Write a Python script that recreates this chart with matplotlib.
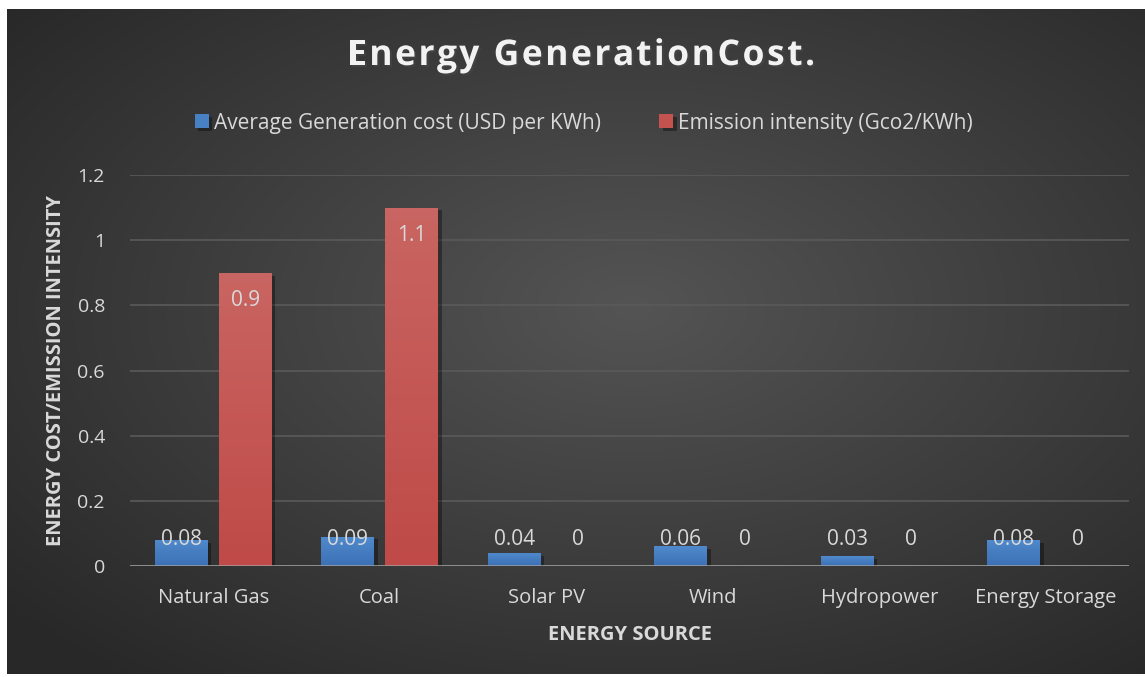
import numpy as np
import matplotlib.pyplot as plt
import matplotlib.patheffects as pe
from matplotlib.colors import LinearSegmentedColormap

# ----------------------------
# Data
# ----------------------------
categories = ["Natural Gas", "Coal", "Solar PV", "Wind", "Hydropower", "Energy Storage"]
avg_cost = [0.08, 0.09, 0.04, 0.06, 0.03, 0.08]
emission = [0.9, 1.1, 0, 0, 0, 0]
series_names = ["Average Generation cost (USD per KWh)", "Emission intensity (Gco2/KWh)"]
y_ticks = [0, 0.2, 0.4, 0.6, 0.8, 1, 1.2]
title = "Energy GenerationCost."

plt.rcParams["font.family"] = ["Open Sans", "DejaVu Sans"]
TEXT = "#d9d9d9"
BLUE = "#4880c4"
RED = "#c4534f"

fig = plt.figure(figsize=(11.45, 6.77), dpi=100, facecolor="white")

# dark radial background
bg = fig.add_axes([7 / 1145, 3 / 677, 1138 / 1145, 665 / 677])
yy, xx = np.mgrid[0:1:300j, 0:1:500j]
r = np.sqrt(((xx - 0.55) / 0.75) ** 2 + ((yy - 0.45) / 0.75) ** 2)
shade = np.clip(0.33 - 0.18 * r, 0.16, 0.33)
bg.imshow(np.dstack([shade] * 3), aspect="auto", extent=[0, 1, 0, 1], interpolation="bilinear")
bg.axis("off")

ax = fig.add_axes([130 / 1145, 111 / 677, 999 / 1145, 391 / 677])
ax.set_facecolor("none")

x = np.arange(len(categories))
w = 0.318
off = 0.193

b1 = ax.bar(x - off, avg_cost, w, color=BLUE, zorder=3, label=series_names[0])
b2 = ax.bar(x + off, emission, w, color=RED, zorder=3, label=series_names[1])

# vertical gradient fill inside each bar
grad = np.linspace(1, 0, 100).reshape(-1, 1)
cmaps = {
    id(b1): LinearSegmentedColormap.from_list("b", ["#3c70b5", "#508acd"]),
    id(b2): LinearSegmentedColormap.from_list("r", ["#bf4a47", "#c96562"]),
}
for bars in (b1, b2):
    for b in bars:
        b.set_path_effects([pe.SimplePatchShadow(offset=(2.5, -2), shadow_rgbFace="black", alpha=0.35), pe.Normal()])
        if b.get_height() <= 0:
            continue
        bx, by = b.get_x(), b.get_y()
        im = ax.imshow(grad, cmap=cmaps[id(bars)], aspect="auto", zorder=3.1,
                       extent=[bx, bx + b.get_width(), by, by + b.get_height()])
        im.set_clip_path(b)

# data labels
for xs, vals in ((x - off, avg_cost), (x + off, emission)):
    for xi, v in zip(xs, vals):
        ly = max(v - 0.086, 0.08)
        ax.text(xi, ly, f"{v:g}", ha="center", va="center", color=TEXT, fontsize=15, zorder=4)

ax.set_ylim(0, 1.2)
ax.set_xlim(-0.5, len(categories) - 0.5)
ax.set_yticks(y_ticks)
ax.set_yticklabels([f"{t:g}" for t in y_ticks])
ax.set_xticks(x)
ax.set_xticklabels(categories)
ax.tick_params(axis="both", length=0, colors=TEXT)
ax.tick_params(axis="y", pad=18, labelsize=14)
ax.tick_params(axis="x", pad=16, labelsize=14.5)
ax.grid(axis="y", color="#5a5a5a", lw=1.2, zorder=0)
for s in ax.spines.values():
    s.set_visible(False)
ax.axhline(0, color="#a0a0a0", lw=1.8, zorder=4)

ax.set_xlabel("ENERGY SOURCE", color=TEXT, fontsize=14.5, fontweight="bold", labelpad=12)
ax.set_ylabel("ENERGY COST/EMISSION INTENSITY", color=TEXT, fontsize=14.5, fontweight="bold")
ax.yaxis.set_label_coords(-0.064, 0.5)

# spaced-out title, one character at a time
renderer = fig.canvas.get_renderer()
tkw = dict(color="#f2f2f2", fontsize=25.5, fontweight="bold", va="center", ha="left",
           path_effects=[pe.withSimplePatchShadow(offset=(1.5, -1.5), alpha=0.5)])


def text_width(s):
    t = fig.text(0, 0, s, **tkw)
    wd = t.get_window_extent(renderer).width
    t.remove()
    return wd


ref_w = text_width("H")
lefts = [text_width(title[:i] + "H") - ref_w if i else 0.0 for i in range(len(title))]
natural = lefts[-1] + text_width(title[-1])
target = 468
track = (target - natural) / (len(title) - 1)
start = 581 - target / 2
for i, ch in enumerate(title):
    if ch == " ":
        continue
    fig.text((start + lefts[i] + i * track) / 1145, 1 - 56 / 677, ch, **tkw)

leg = fig.legend(handles=[b1, b2], loc="center", bbox_to_anchor=(584 / 1145, 1 - 123 / 677), ncol=2,
                 frameon=False, fontsize=15, labelcolor=TEXT, handlelength=0.67, handleheight=0.67,
                 handletextpad=0.25, columnspacing=2.8)

fig.savefig("out.png", dpi=100, facecolor="white")
